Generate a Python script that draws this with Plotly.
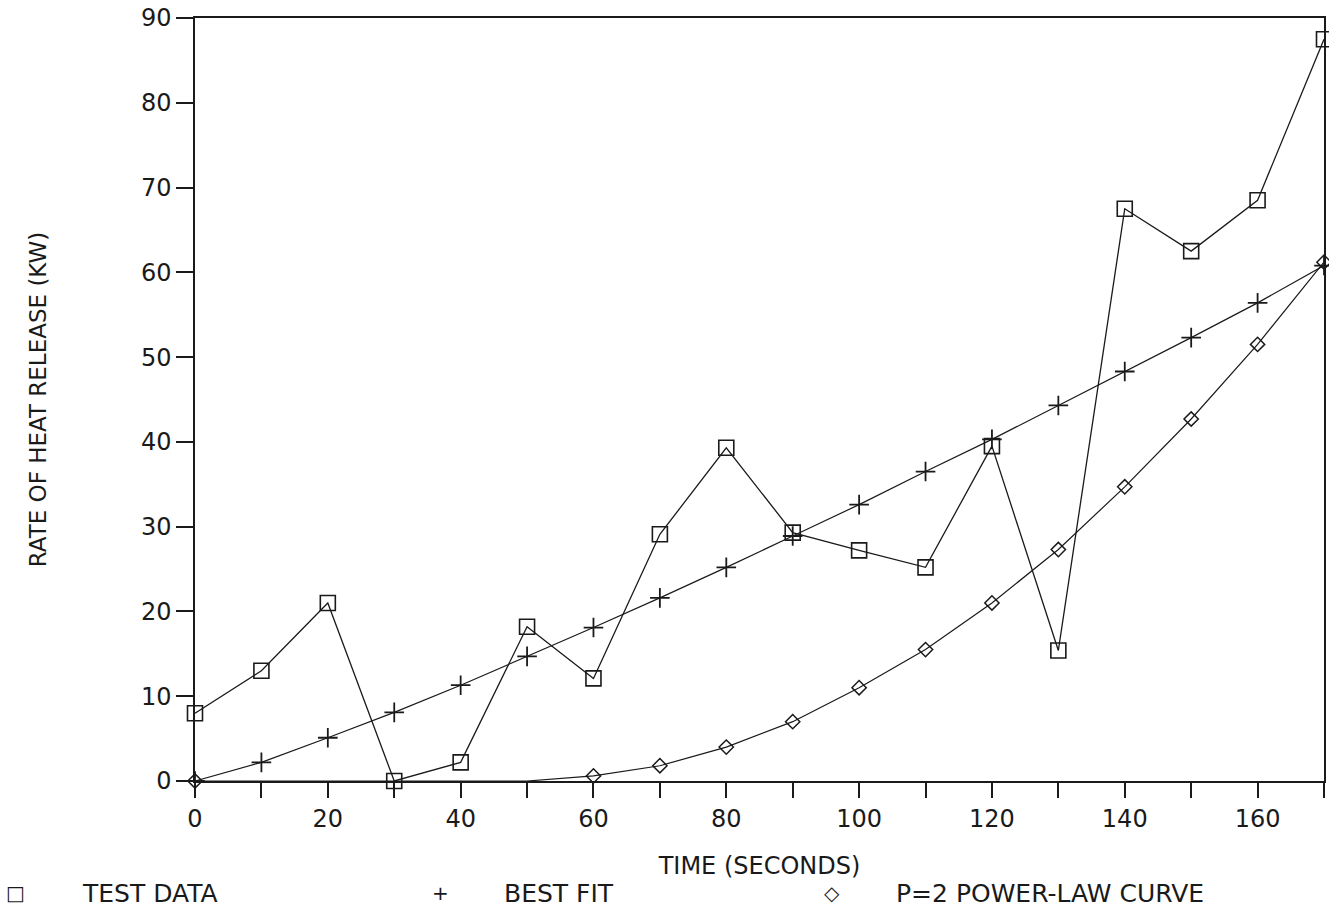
import plotly.graph_objects as go

time_s = [0, 10, 20, 30, 40, 50, 60, 70, 80, 90, 100, 110, 120, 130, 140, 150, 160, 170]
test_data = [8.0, 13.0, 21.0, 0.0, 2.2, 18.2, 12.1, 29.1, 39.3, 29.3, 27.2, 25.2, 39.5, 15.4, 67.5, 62.5, 68.5, 87.5]
best_fit = [0.0, 2.2, 5.1, 8.1, 11.3, 14.7, 18.1, 21.6, 25.2, 28.9, 32.6, 36.5, 40.3, 44.3, 48.3, 52.3, 56.4, 60.8]
power_law = [0.0, 0.0, 0.0, 0.0, 0.0, 0.0, 0.6, 1.8, 4.0, 7.0, 11.0, 15.5, 21.0, 27.3, 34.7, 42.7, 51.5, 61.2]
# diamond markers are shown only at t=0 and from t=60 on
power_marked = [True, False, False, False, False, False] + [True] * 12

x_ticks = [0, 20, 40, 60, 80, 100, 120, 140, 160]
y_ticks = [0, 10, 20, 30, 40, 50, 60, 70, 80, 90]

FONT = "DejaVu Sans"
INK = "#1a1a1a"

fig = go.Figure()
fig.add_trace(go.Scatter(
    x=time_s, y=test_data, mode="lines+markers", name="TEST DATA",
    line=dict(color=INK, width=1.3),
    marker=dict(symbol="square-open", size=15, color=INK, line=dict(width=1.6, color=INK)),
    showlegend=False, cliponaxis=False))
fig.add_trace(go.Scatter(
    x=time_s, y=best_fit, mode="lines+markers", name="BEST FIT",
    line=dict(color=INK, width=1.2),
    marker=dict(symbol="cross-thin-open", size=14, color=INK, line=dict(width=1.8, color=INK)),
    showlegend=False, cliponaxis=False))
fig.add_trace(go.Scatter(
    x=time_s, y=power_law, mode="lines", name="P=2 POWER-LAW CURVE",
    line=dict(color=INK, width=1.2),
    showlegend=False, cliponaxis=False))
fig.add_trace(go.Scatter(
    x=[t for t, m in zip(time_s, power_marked) if m],
    y=[v for v, m in zip(power_law, power_marked) if m],
    mode="markers", name="P=2 POWER-LAW CURVE",
    marker=dict(symbol="diamond-open", size=11, color=INK, line=dict(width=1.5, color=INK)),
    showlegend=False, cliponaxis=False))

fig.update_layout(
    width=1329, height=913,
    margin=dict(l=195, r=3, t=18, b=132),
    paper_bgcolor="white", plot_bgcolor="white",
    font=dict(family=FONT, color=INK, size=24),
    showlegend=False,
)
fig.update_xaxes(
    range=[0, 170], tickvals=x_ticks, ticktext=[str(v) for v in x_ticks],
    showgrid=False, zeroline=False,
    showline=True, linecolor=INK, linewidth=1.5, mirror=True,
    ticks="outside", ticklen=15, tickwidth=1.5, tickcolor=INK,
    minor=dict(dtick=10, tick0=0, ticks="outside", ticklen=15, tickwidth=1.5, tickcolor=INK, showgrid=False),
    tickfont=dict(family=FONT, size=24, color=INK),
    title=dict(text="TIME (SECONDS)", font=dict(family=FONT, size=24, color=INK), standoff=26),
)
fig.update_yaxes(
    range=[0, 90], tickvals=y_ticks, ticktext=[str(v) for v in y_ticks],
    showgrid=False, zeroline=False,
    showline=True, linecolor=INK, linewidth=1.5, mirror=True,
    ticks="outside", ticklen=17, tickwidth=1.5, tickcolor=INK,
    tickfont=dict(family=FONT, size=24, color=INK),
    title=dict(text="RATE OF HEAT RELEASE (KW)", font=dict(family=FONT, size=23, color=INK), standoff=88),
)

# legend row drawn as text along the bottom
legend_items = [("\u25a1", 15, "TEST DATA", 80), ("+", 441, "BEST FIT", 503), ("\u25c7", 833, "P=2 POWER-LAW CURVE", 895)]
for sym, sx, label, lx in legend_items:
    fig.add_annotation(xref="paper", yref="paper", x=(sx - 195) / 1131, y=(913 - 132 - 893) / 763,
                       text=sym, showarrow=False, xanchor="center", yanchor="middle",
                       font=dict(family=FONT, size=20, color=INK))
    fig.add_annotation(xref="paper", yref="paper", x=(lx - 195) / 1131, y=(913 - 132 - 893) / 763,
                       text=label, showarrow=False, xanchor="left", yanchor="middle",
                       font=dict(family=FONT, size=25, color=INK))

fig.write_html("out.html")
